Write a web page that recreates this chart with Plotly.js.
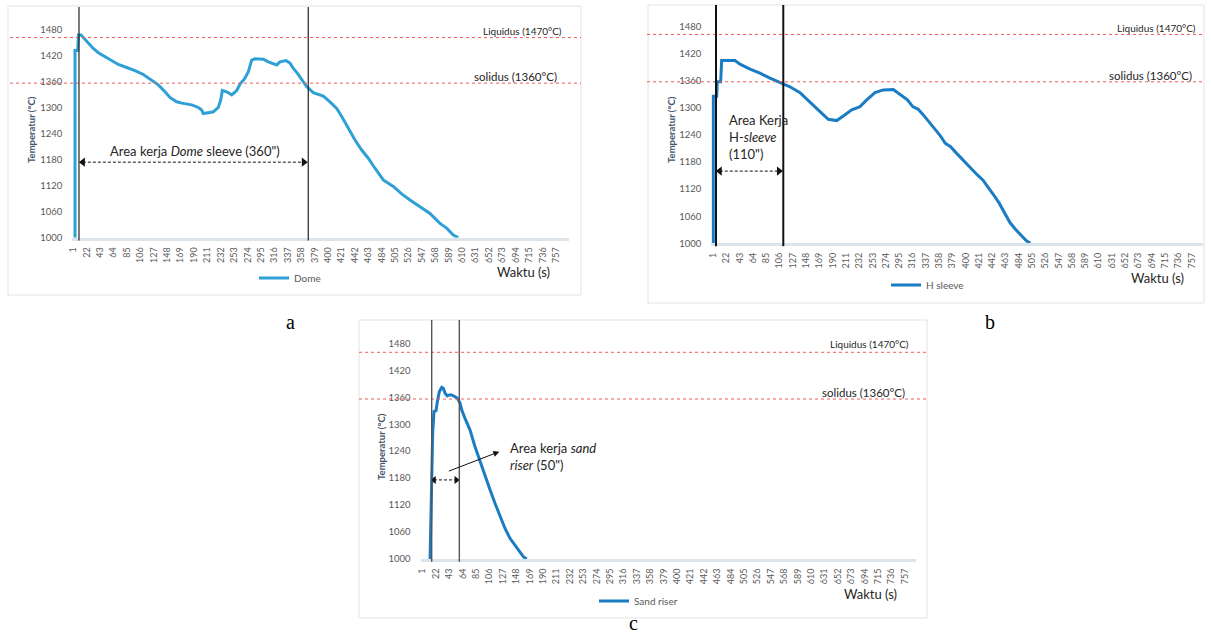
<!DOCTYPE html>
<html>
<head>
<meta charset="utf-8">
<script src="https://cdn.plot.ly/plotly-3.0.1.min.js"></script>
<style>html,body{margin:0;padding:0;background:#fff;}#chart{width:1211px;height:637px;}</style>
</head>
<body>
<div id="chart"></div>
<script>
// ---------- data ----------
const xTicks = [1,22,43,64,85,106,127,148,169,190,211,232,253,274,295,316,337,358,379,400,421,442,463,484,505,526,547,568,589,610,631,652,673,694,715,736,757];
const yTicks = [1000,1060,1120,1180,1240,1300,1360,1420,1480];

const timeDome = [3.7,3.7,7.9,9.1,13.1,19.3,24.5,32.3,40.2,50.6,61.1,71.5,84.6,97.6,110.6,123.8,134.1,144.6,152.4,162.9,170.8,186.4,196.8,202.1,204.6,212.4,220.3,228.1,231.9,234.4,241.3,249.1,256.9,262.1,268.8,275.1,280.4,285.6,298.6,306.4,319.6,324.7,334.1,340.4,345.6,351.8,358.7,366.5,376.9,392.5,403,413.5,421.4,431.7,442.2,452.7,463,473.5,486.5,502.2,515.3,528.3,544,559.6,575.3,585.8,596.1,604];
const tempDome = [1000,1431,1431,1467,1467,1457,1448,1436,1426,1417,1408,1399,1392,1385,1376,1363,1352,1336,1323,1313,1310,1306,1300,1294,1286,1288,1290,1300,1317,1339,1336,1329,1339,1354,1365,1382,1409,1412,1411,1405,1398,1405,1408,1402,1390,1379,1363,1348,1334,1326,1313,1298,1279,1252,1225,1202,1183,1160,1133,1118,1101,1087,1071,1056,1033,1022,1006,1000];

const timeH = [1.3,1.3,6.7,7.5,13,14.5,35.6,43.5,59.3,75,90.9,106.7,122.5,138.3,154.1,169.9,183,196.3,206.7,220,233.1,243.7,256.8,269.9,285.7,296.6,308,316.5,325,333.5,342,350.6,359.1,367.7,376.2,384.7,393.3,401.8,410.3,418.9,427.4,435.9,444.4,453,461.5,470,478.6,487.1,495.6,502];
const tempH = [1000,1326,1326,1358,1358,1405,1405,1397,1386,1377,1366,1356,1347,1334,1314,1292,1275,1272,1282,1296,1303,1318,1334,1340,1341,1329,1318,1303,1297,1284,1270,1255,1240,1222,1214,1201,1188,1177,1163,1151,1140,1122,1107,1089,1067,1046,1031,1019,1006,1000];

const timeSand = [12.8,14.3,17,19,22.2,24.2,27.3,31.1,33.6,36.3,39.9,43,46.8,51.9,55.5,59.8,62.4,67.6,75.5,83.3,91.1,99,106.8,114.6,122.5,130.3,138.1,148.6,159,164.3];
const tempSand = [1000,1131,1283,1328,1330,1350,1372,1382,1380,1369,1363,1365,1365,1361,1358,1347,1332,1313,1287,1250,1217,1183,1154,1124,1094,1068,1046,1024,1005,1000];

// reference lines as drawn (labels say 1470 / 1360)
const liquidusDrawn = [1461, 1463, 1460];
const solidusDrawn  = [1356, 1358, 1356];
const workLinesA = [9.9, 369];
const workLinesB = [5.6, 111.9];
const workLinesC = [15.4, 58.7];
const arrowA = [16, 362], arrowAy = 1174;
const arrowB = [11.5, 105], arrowBy = 1160;
const arrowC = [19, 54], arrowCy = 1176;

// ---------- layout helpers ----------
const W = 1211, H = 637;
const px = x => x / W;
const py = y => 1 - y / H;
const FONT = 'Lato, "Open Sans", sans-serif';
const GREY = '#595959';

function xAx(d, r, anchor) {
  return {domain: d, range: r, anchor: anchor, tickmode: 'array', tickvals: xTicks, ticktext: xTicks.map(String),
    tickangle: -90, showgrid: false, zeroline: false, showline: true, linecolor: '#dbe3eb', linewidth: 3,
    ticks: '', ticklabelstandoff: 3, tickfont: {family: FONT, size: 9, color: GREY}, fixedrange: true};
}
function yAx(d, r, anchor) {
  return {domain: d, range: r, anchor: anchor, tickmode: 'array', tickvals: yTicks, showgrid: false, zeroline: false,
    showline: false, ticks: '', ticklabelstandoff: 9, tickfont: {family: FONT, size: 9.5, color: GREY}, fixedrange: true};
}

const colA = '#2fa0d6', colB = '#1a7dc3';

const traces = [
  {x: timeDome, y: tempDome, xaxis: 'x', yaxis: 'y', mode: 'lines', name: 'Dome', legend: 'legend',
    line: {color: colA, width: 3}},
  {x: timeH, y: tempH, xaxis: 'x2', yaxis: 'y2', mode: 'lines', name: 'H sleeve', legend: 'legend2',
    line: {color: colB, width: 3}},
  {x: timeSand, y: tempSand, xaxis: 'x3', yaxis: 'y3', mode: 'lines', name: 'Sand riser', legend: 'legend3',
    line: {color: colB, width: 3}},
];
function dblArrow(xs, yv, xa, ya, size) {
  return {x: xs, y: [yv, yv], xaxis: xa, yaxis: ya, mode: 'lines+markers', showlegend: false, cliponaxis: false,
    line: {color: '#111', width: 1, dash: '3px,2px'},
    marker: {symbol: ['triangle-left', 'triangle-right'], size: size, color: '#111'}};
}
traces.push(dblArrow(arrowA, arrowAy, 'x', 'y', 8));
traces.push(dblArrow(arrowB, arrowBy, 'x2', 'y2', 8));
traces.push(dblArrow(arrowC, arrowCy, 'x3', 'y3', 7));

const shapes = [];
function border(x0, x1, y0, y1) {
  shapes.push({type: 'rect', xref: 'paper', yref: 'paper', x0: px(x0), x1: px(x1), y0: py(y1), y1: py(y0),
    line: {color: '#e3e3e3', width: 1}, layer: 'below'});
}
border(8, 581, 6, 295);
border(648, 1204, 5, 303);
border(359, 927, 320, 618);

function hline(yref, yv, x0, x1) {
  shapes.push({type: 'line', xref: 'paper', yref: yref, x0: px(x0), x1: px(x1), y0: yv, y1: yv,
    line: {color: '#f05a5a', width: 1, dash: '3px,3px'}});
}
hline('y', liquidusDrawn[0], 10, 581); hline('y', solidusDrawn[0], 10, 581);
hline('y2', liquidusDrawn[1], 647, 1204); hline('y2', solidusDrawn[1], 647, 1204);
hline('y3', liquidusDrawn[2], 359, 927); hline('y3', solidusDrawn[2], 359, 927);

function vline(xref, yref, xv, color, width) {
  shapes.push({type: 'line', xref: xref, yref: yref + ' domain', x0: xv, x1: xv, y0: -0.012, y1: 1,
    line: {color: color, width: width}});
}
workLinesA.forEach(v => vline('x', 'y', v, '#222', 1.2));
workLinesB.forEach(v => vline('x2', 'y2', v, '#111', 2));
workLinesC.forEach(v => vline('x3', 'y3', v, '#555', 1.4));

const ann = [];
function ptxt(text, x, y, size, opts) {
  ann.push(Object.assign({text: text, xref: 'paper', yref: 'paper', x: px(x), y: py(y), showarrow: false,
    font: {family: FONT, size: size, color: '#262626'}, xanchor: 'center', yanchor: 'middle'}, opts || {}));
}
// liquidus / solidus labels
ptxt('Liquidus (1470°C)', 564, 31, 10, {xanchor: 'right'});
ptxt('solidus (1360°C)', 559, 76, 11.5, {xanchor: 'right'});
ptxt('Liquidus (1470°C)', 1198, 28, 10, {xanchor: 'right'});
ptxt('solidus (1360°C)', 1194, 75, 11.5, {xanchor: 'right'});
ptxt('Liquidus (1470°C)', 911, 344, 10, {xanchor: 'right'});
ptxt('solidus (1360°C)', 907, 392, 11.5, {xanchor: 'right'});
// x titles
ptxt('Waktu (s)', 523, 272, 13);
ptxt('Waktu (s)', 1157, 278, 13);
ptxt('Waktu (s)', 870, 594, 13);
// y titles
const ytf = {family: FONT, size: 9.5, color: '#44546a', weight: 'bold'};
ptxt('<b>Temperatur (°C)</b>', 31, 130, 9.5, {textangle: -90, font: ytf});
ptxt('<b>Temperatur (°C)</b>', 671, 130, 9.5, {textangle: -90, font: ytf});
ptxt('<b>Temperatur (°C)</b>', 381, 447, 9.5, {textangle: -90, font: ytf});
// panel letters
const serif = {family: '"Liberation Serif", "DejaVu Serif", serif', size: 20, color: '#000'};
ptxt('a', 290, 322, 20, {font: serif});
ptxt('b', 990, 322, 20, {font: serif});
ptxt('c', 634, 623, 20, {font: serif});

// in-plot annotations (data coordinates)
const af = {family: FONT, size: 13, color: '#262626'};
ann.push({text: 'Area kerja <i>Dome</i> sleeve (360")', xref: 'x', yref: 'y', x: 192, y: 1200, showarrow: false, font: af});
ann.push({text: 'Area Kerja<br>H-<i>sleeve</i><br>(110")', xref: 'x2', yref: 'y2', x: 23.7, y: 1236, showarrow: false,
  font: af, align: 'left', xanchor: 'left', yanchor: 'middle'});
ann.push({text: 'Area kerja <i>sand</i><br><i>riser</i> (50")', xref: 'x3', yref: 'y3', x: 135, y: 1229, showarrow: false,
  font: af, align: 'left', xanchor: 'left', yanchor: 'middle'});
ann.push({text: '', xref: 'x3', yref: 'y3', x: 121.4, y: 1238.8, axref: 'x3', ayref: 'y3', ax: 39.9, ay: 1194.3,
  showarrow: true, arrowhead: 2, arrowsize: 1.2, arrowwidth: 1, arrowcolor: '#111'});

const legFont = {family: FONT, size: 10, color: GREY};
const layout = {
  width: W, height: H, margin: {l: 0, r: 0, t: 0, b: 0},
  paper_bgcolor: '#fff', plot_bgcolor: 'rgba(0,0,0,0)', font: {family: FONT},
  xaxis: xAx([px(72.2), px(568.5)], [-0.72, 776.6], 'y'),
  yaxis: yAx([py(237.7), py(7)], [1000, 1531.4], 'x'),
  xaxis2: xAx([px(711.3), px(1202.5)], [-1.84, 774.2], 'y2'),
  yaxis2: yAx([py(243.3), py(5)], [1000, 1528.2], 'x2'),
  xaxis3: xAx([px(420.6), px(915.9)], [-2, 774.3], 'y3'),
  yaxis3: yAx([py(559), py(320)], [1000, 1531.9], 'x3'),
  showlegend: true,
  legend: {x: px(254), y: py(278), xanchor: 'left', yanchor: 'middle', font: legFont, bgcolor: 'rgba(0,0,0,0)'},
  legend2: {x: px(886), y: py(285), xanchor: 'left', yanchor: 'middle', font: legFont, bgcolor: 'rgba(0,0,0,0)'},
  legend3: {x: px(594), y: py(601), xanchor: 'left', yanchor: 'middle', font: legFont, bgcolor: 'rgba(0,0,0,0)'},
  shapes: shapes,
  annotations: ann
};
Plotly.newPlot('chart', traces, layout, {staticPlot: true, displayModeBar: false});
</script>
</body>
</html>
